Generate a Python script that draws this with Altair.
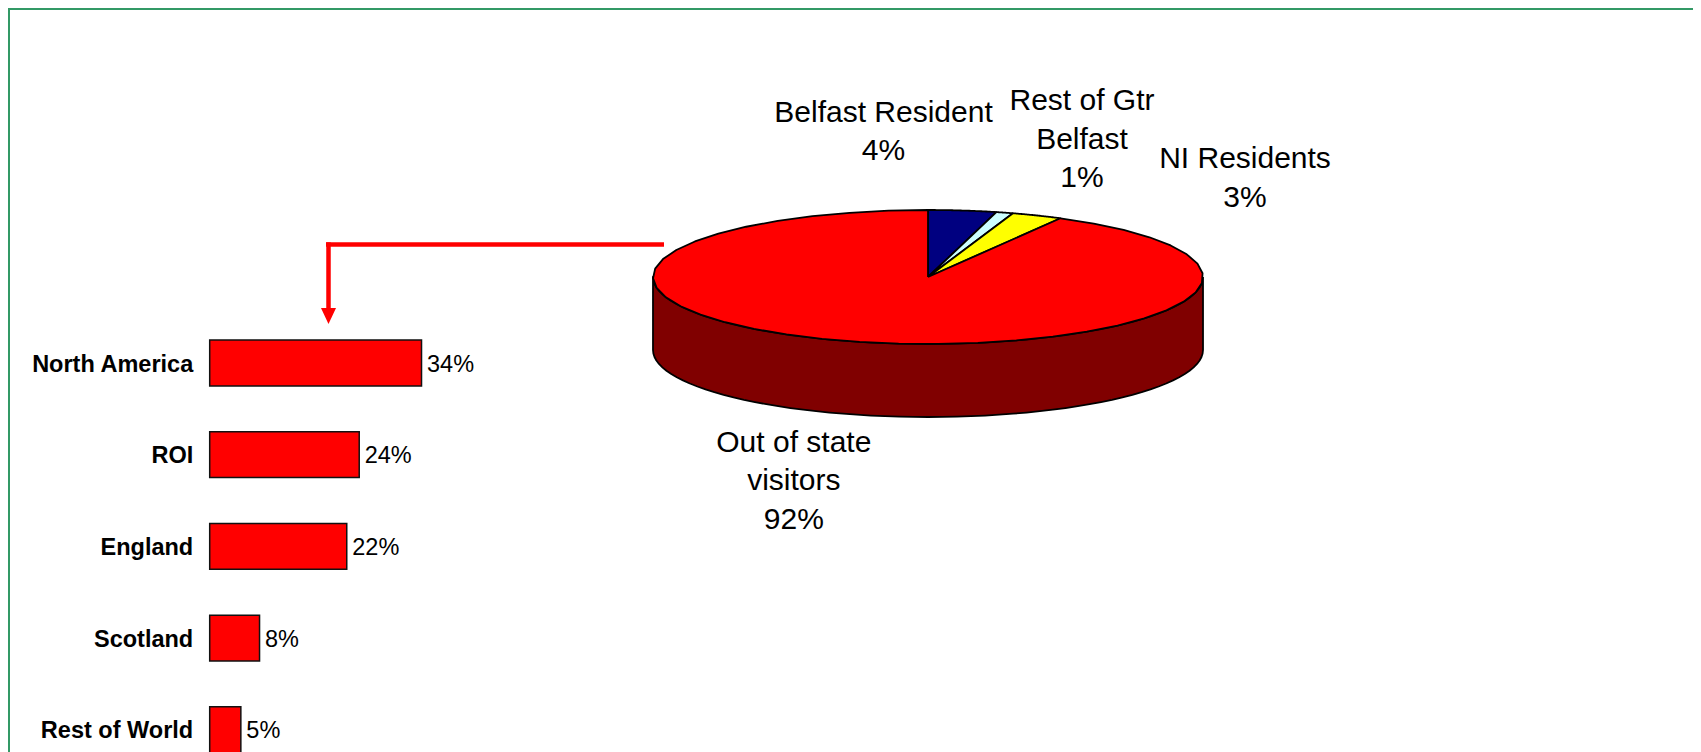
import altair as alt
import pandas as pd

# ---------------- data ----------------
regions = ["North America", "ROI", "England", "Scotland", "Rest of World"]
region_share = [34, 24, 22, 8, 5]

segments = ["Belfast Resident", "Rest of Gtr Belfast", "NI Residents", "Out of state visitors"]
segment_share = [4, 1, 3, 92]
segment_lines = [["Belfast Resident"], ["Rest of Gtr", "Belfast"], ["NI Residents"], ["Out of state", "visitors"]]
segment_colors = ["#000080", "#CCFFFF", "#FFFF00", "#FF0000"]

# ---------------- layout / style ----------------
W, H = 1685, 744
FONT = "Arial, 'Liberation Sans', sans-serif"
GREEN = "#339966"
RED = "#FF0000"
SIDE = "#800000"

BAR_X_RANGE = [201.7, 824.7]      # 0..100 %
BAR_Y_RANGE = [309.1, 767.6]

PIE_CX, PIE_CY = 920, 269
PIE_RX, PIE_RY = 275, 67
PIE_DEPTH = 73
D = PIE_DEPTH / PIE_RY
NARC = 40
NSIDE = 60

one = pd.DataFrame({"k": [0]})

# ---------------- frame ----------------
border_left = alt.Chart(one).mark_rule(color=GREEN, strokeWidth=2).encode(
    x=alt.value(1), y=alt.value(0), y2=alt.value(H))
border_top = alt.Chart(one).mark_rule(color=GREEN, strokeWidth=2).encode(
    x=alt.value(0), x2=alt.value(W), y=alt.value(1))

# ---------------- bars ----------------
bar_df = pd.DataFrame({"region": regions, "share": region_share})
bx = alt.Scale(domain=[0, 100], range=BAR_X_RANGE, nice=False)
by = alt.Scale(domain=regions, range=BAR_Y_RANGE, paddingInner=0.5, paddingOuter=0.25)
bbase = alt.Chart(bar_df)
bars = bbase.mark_bar(fill=RED, stroke="#111111", strokeWidth=1.5).encode(
    x=alt.X("share:Q", scale=bx, axis=None),
    y=alt.Y("region:N", sort=regions, scale=by, axis=None),
)
bar_names = bbase.mark_text(align="right", baseline="alphabetic", dx=-16.5, dy=8.7,
                            font=FONT, fontSize=23.5, fontWeight="bold", color="black").encode(
    x=alt.X(datum=0, type="quantitative", scale=bx, axis=None),
    y=alt.Y("region:N", sort=regions, scale=by, axis=None),
    text="region:N",
)
bar_vals = bbase.transform_calculate(label="datum.share + '%'").mark_text(
    align="left", baseline="alphabetic", dx=5.5, dy=8.7,
    font=FONT, fontSize=23.5, color="black").encode(
    x=alt.X("share:Q", scale=bx, axis=None),
    y=alt.Y("region:N", sort=regions, scale=by, axis=None),
    text="label:N",
)
bar_layer = alt.layer(bars, bar_names, bar_vals)

# ---------------- arrow ----------------
arrow_h = alt.Chart(one).mark_rule(color=RED, strokeWidth=4.5).encode(
    x=alt.value(318), x2=alt.value(656), y=alt.value(236.5))
arrow_v = alt.Chart(one).mark_rule(color=RED, strokeWidth=4.5).encode(
    x=alt.value(320.5), y=alt.value(234.3), y2=alt.value(302))
arrow_head = alt.Chart(one).mark_point(shape="M-0.94,-1L0.94,-1L0,1Z", size=256, filled=True,
                                       color=RED, opacity=1, strokeWidth=0).encode(
    x=alt.value(320.5), y=alt.value(308))

# ---------------- 3D pie ----------------
px_scale = alt.Scale(domain=[-1, 1], range=[PIE_CX - PIE_RX, PIE_CX + PIE_RX], nice=False, zero=False)
py_scale = alt.Scale(domain=[-1, 1], range=[PIE_CY + PIE_RY, PIE_CY - PIE_RY], nice=False, zero=False)

side = alt.Chart(pd.DataFrame({"part": ["side"]})).transform_calculate(
    steps=f"sequence(0, {2 * NSIDE + 3})"
).transform_flatten(["steps"]).transform_calculate(
    theta=(f"datum.steps <= {NSIDE} ? PI/2 + PI*datum.steps/{NSIDE} : "
           f"(datum.steps <= {2 * NSIDE + 1} ? 3*PI/2 - PI*(datum.steps-{NSIDE + 1})/{NSIDE} : PI/2)"),
    low=f"datum.steps > {NSIDE} && datum.steps <= {2 * NSIDE + 1} ? {D} : 0",
).transform_calculate(
    px="sin(datum.theta)", py="cos(datum.theta) - datum.low"
).mark_line(fill=SIDE, stroke="black", strokeWidth=1.8, strokeJoin="round").encode(
    x=alt.X("px:Q", scale=px_scale, axis=None),
    y=alt.Y("py:Q", scale=py_scale, axis=None),
    order="steps:Q",
)

pie_df = pd.DataFrame({"name": segments, "share": segment_share, "order": list(range(len(segments)))})
slices = alt.Chart(pie_df).transform_window(
    cum="sum(share)", sort=[alt.SortField("order")], frame=[None, 0]
).transform_joinaggregate(total="sum(share)").transform_calculate(
    a0="2*PI*(datum.cum - datum.share)/datum.total",
    a1="2*PI*datum.cum/datum.total",
    steps=f"sequence(-1, {NARC + 2})",
).transform_flatten(["steps"]).transform_calculate(
    inside=f"datum.steps >= 0 && datum.steps <= {NARC}",
    ang=f"datum.a0 + (datum.a1 - datum.a0)*clamp(datum.steps, 0, {NARC})/{NARC}",
).transform_calculate(
    px="datum.inside ? sin(datum.ang) : 0",
    py="datum.inside ? cos(datum.ang) : 0",
).mark_line(stroke="black", strokeWidth=1.8, strokeJoin="round").encode(
    x=alt.X("px:Q", scale=px_scale, axis=None),
    y=alt.Y("py:Q", scale=py_scale, axis=None),
    fill=alt.Fill("name:N", scale=alt.Scale(domain=segments, range=segment_colors), legend=None),
    detail="name:N",
    order="steps:Q",
)
pie_layer = alt.layer(side, slices)

# ---------------- pie labels ----------------
label_pos = [(875.5, 113.7), (1074, 102), (1237, 160.3), (785.8, 443.7)]
labels = []
for i, (lx, ly) in enumerate(label_pos):
    lines = segment_lines[i] + [f"{segment_share[i]}%"]
    labels.append(
        alt.Chart(one).mark_text(text=lines, font=FONT, fontSize=30, lineHeight=38.5,
                                 align="center", baseline="alphabetic", color="black").encode(
            x=alt.value(lx), y=alt.value(ly))
    )

chart = alt.layer(
    border_left, border_top, bar_layer, arrow_h, arrow_v, arrow_head, pie_layer, *labels
).resolve_scale(
    x="independent", y="independent", fill="independent"
).properties(
    width=W, height=H, padding=0, background="white",
    autosize=alt.AutoSizeParams(type="none"),
).configure_view(stroke=None)

chart.save("out.html", embed_options={"renderer": "svg", "actions": False})
